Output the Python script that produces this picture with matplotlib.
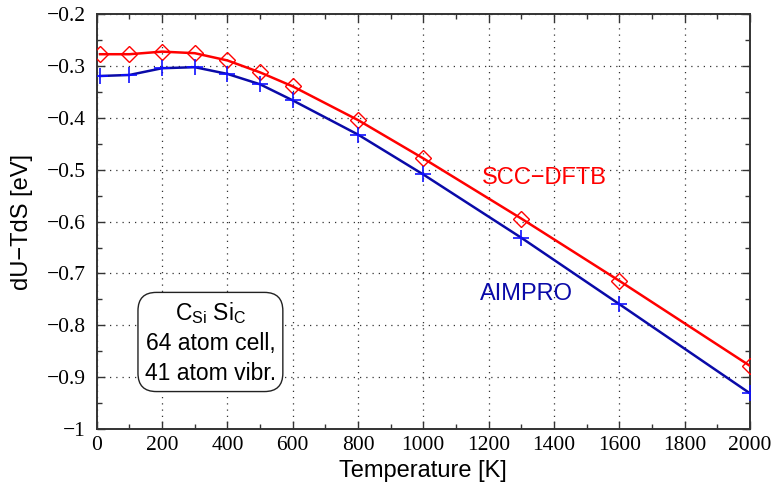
import matplotlib
matplotlib.use('Agg')
import matplotlib.pyplot as plt
from matplotlib.ticker import MultipleLocator

# Dados
temperatura = [10, 100, 200, 300, 400, 500, 600, 800, 1000, 1300, 1600, 2000]
scc_dftb = [-0.277, -0.277, -0.272, -0.275, -0.289, -0.312, -0.339, -0.404,
            -0.478, -0.594, -0.714, -0.878]
aimpro = [-0.319, -0.317, -0.304, -0.302, -0.315, -0.335, -0.366, -0.432,
          -0.509, -0.631, -0.759, -0.931]

plt.rcParams['font.family'] = ['Liberation Sans', 'DejaVu Sans']

fig = plt.figure(figsize=(7.73, 4.90), dpi=100)
ax = fig.add_axes([0.1252, 0.1245, 0.8448, 0.8463])

ax.plot(temperatura, scc_dftb, color='#ff0000', lw=1.8, marker='D', ms=8,
        mfc='none', mec='#ff0000', mew=1.0, zorder=3)
ax.plot(temperatura, aimpro, color='#0a0aa8', lw=1.8, marker='+', ms=11,
        mec='#1010ff', mew=1.2, zorder=3)

ax.set_xlim(0, 2000)
ax.set_ylim(-1, -0.2)
ax.xaxis.set_major_locator(MultipleLocator(200))
ax.xaxis.set_minor_locator(MultipleLocator(100))
ax.yaxis.set_major_locator(MultipleLocator(0.1))
ax.yaxis.set_minor_locator(MultipleLocator(0.05))
ax.yaxis.set_major_formatter(plt.FuncFormatter(
    lambda v, p: ('%g' % round(v, 1)).replace('-', '\u2212')))

ax.tick_params(which='both', direction='in', top=True, right=True,
               color='#333333')
ax.tick_params(which='major', length=6, width=1.0)
ax.tick_params(which='minor', length=3.5, width=1.0)
ax.tick_params(axis='x', which='major', pad=5)
ax.tick_params(axis='y', which='major', pad=8)
for lbl in ax.get_xticklabels() + ax.get_yticklabels():
    lbl.set_fontfamily('Liberation Serif')
    lbl.set_fontsize(15.5)

for s in ax.spines.values():
    s.set_linewidth(1.4)
    s.set_color('#333333')

ax.grid(True, which='major', linestyle=(0, (1, 4)), color='#333333', lw=0.9)

ax.set_xlabel('Temperature [K]', fontsize=17, labelpad=4)
ax.set_ylabel('dU\u2212TdS [eV]', fontsize=17, labelpad=10)

ax.text(1370, -0.515, 'SCC\u2212DFTB', color='#ff0000', fontsize=17,
        ha='center', va='center')
ax.text(1315, -0.74, 'AIMPRO', color='#0a0aa8', fontsize=17,
        ha='center', va='center')

ax.text(348, -0.833,
        'C$_{\\mathregular{Si}}$ Si$_{\\mathregular{C}}$\n64 atom cell,\n41 atom vibr.',
        fontsize=16.5, ha='center', va='center', linespacing=1.35, zorder=4,
        bbox=dict(boxstyle='round,pad=0.3,rounding_size=0.8', fc='white',
                  ec='#222222', lw=1.0))

fig.savefig('out.png', dpi=100)
